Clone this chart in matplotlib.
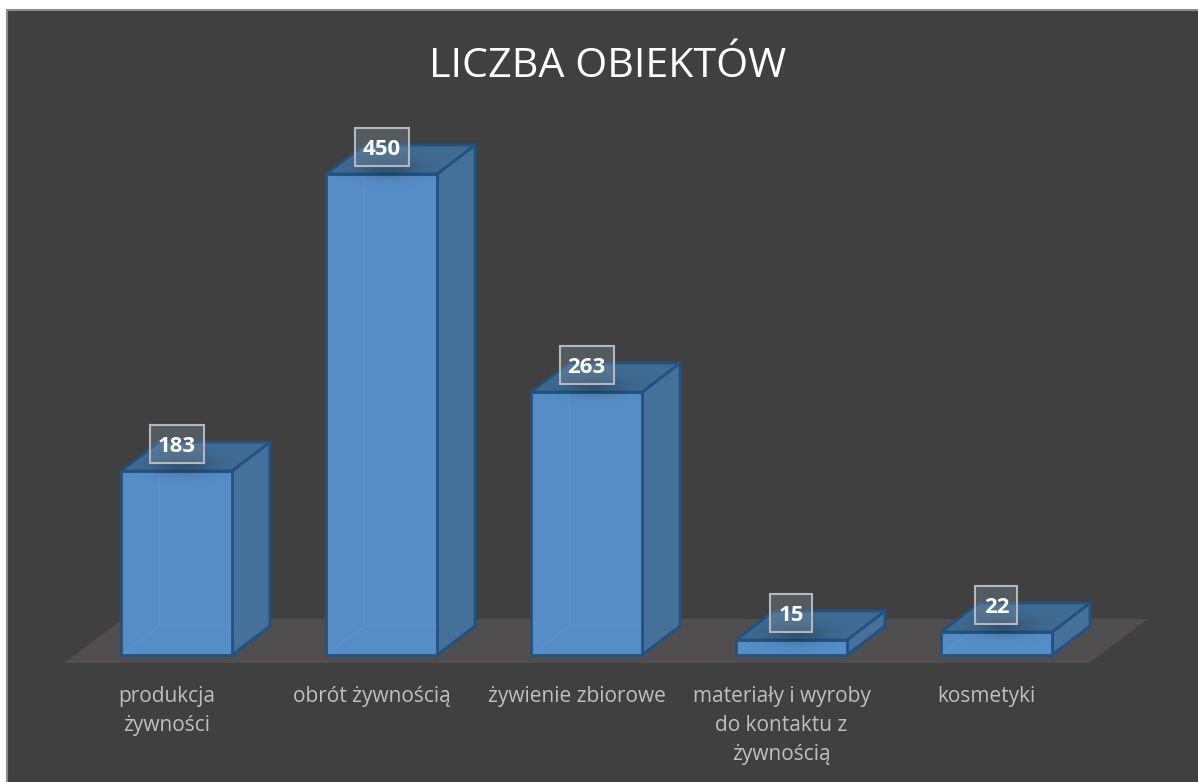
import numpy as np
import matplotlib
matplotlib.use("Agg")
import matplotlib.pyplot as plt
from matplotlib.patches import Polygon, Rectangle

# data
categories = ["produkcja\nżywności", "obrót żywnością", "żywienie zbiorowe",
              "materiały i wyroby\ndo kontaktu z\nżywnością", "kosmetyki"]
value_labels = ["183", "450", "263", "15", "22"]
# drawn heights differ from the printed 450 in the original chart
bar_heights = [184, 481, 263, 15, 23]
title = "LICZBA OBIEKTÓW"

plt.rcParams['font.family'] = ['Open Sans', 'DejaVu Sans']

W, H = 1198, 782
fig = plt.figure(figsize=(W / 100, H / 100), dpi=100, facecolor="white")
bg = Rectangle((7 / W, -0.01), 1.01, (H - 10) / H + 0.01, transform=fig.transFigure,
               facecolor="#404040", edgecolor="#8c8c8c", linewidth=1.5, zorder=-1)
fig.add_artist(bg)

# one category = 205 px, one height unit = 1 px, baseline at y px 655
ax = fig.add_axes([0, 0, 1, 1])
xlim = (-176.5 / 205, (W - 176.5) / 205)
ylim = (-(H - 655), 655)
ax.set_xlim(xlim)
ax.set_ylim(ylim)
ax.axis("off")

bar_w = 111 / 205
dx = 38 / 205
dy = 29
px = 1 / 205

# floor
fx0, fx1 = (65 - 177) * px, (1090 - 177) * px
ax.add_patch(Polygon([(fx0, -8), (fx1, -8), (fx1 + 58 * px, 36), (fx0 + 58 * px, 36)],
                     closed=True, facecolor="#504e4e", edgecolor="none", zorder=1))

# soft shadow profile under the label boxes
prof_x = np.exp(-np.linspace(-1.6, 1.6, 60) ** 2 * 1.5)
prof_y = np.exp(-np.linspace(-1.6, 1.6, 40) ** 2 * 1.5)
shadow = np.zeros((40, 60, 4))
shadow[..., 3] = 0.22 * np.outer(prof_y, prof_x)

edge = "#22527f"
for i, h in enumerate(bar_heights):
    l, r = i - bar_w / 2, i + bar_w / 2
    # side and top faces
    ax.add_patch(Polygon([(r, 0), (r + dx, dy), (r + dx, h + dy), (r, h)], closed=True,
                         facecolor="#44709a", edgecolor=edge, linewidth=2, zorder=2))
    ax.add_patch(Polygon([(l, h), (r, h), (r + dx, h + dy), (l + dx, h + dy)], closed=True,
                         facecolor="#3f6a92", edgecolor=edge, linewidth=2, zorder=2))
    # front face
    ax.bar(i, h, width=bar_w, color="#568dc5", edgecolor="none", zorder=3)
    # back edges seen through the front
    if h > 40:
        ax.plot([l + dx, l + dx], [dy, h], color="#5a93cc", linewidth=1, zorder=4)
        ax.plot([l + dx, r], [dy, dy], color="#5a93cc", linewidth=1, zorder=4)
    ax.plot([l, l + min(dx, h / dy * dx)], [0, min(dy, h)], color="#5a93cc", linewidth=1, zorder=4)
    ax.bar(i, h, width=bar_w, color="none", edgecolor=edge, linewidth=2, zorder=4.5)
    # shadow falls on the bar top, centred below the label
    ax.imshow(shadow, extent=(i - 50 * px, i + 62 * px, h - 14, h + 26), aspect="auto",
              zorder=5, interpolation="bilinear")
    # value label box
    bw = (54 if len(value_labels[i]) == 3 else 42) * px
    yc = h + 27
    ax.add_patch(Rectangle((i - bw / 2, yc - 19), bw, 38, facecolor="#7f8d99", alpha=0.35,
                           edgecolor="none", zorder=6))
    ax.add_patch(Rectangle((i - bw / 2, yc - 19), bw, 38, facecolor="none",
                           edgecolor="#b4b8bc", linewidth=1.5, zorder=6))
    ax.text(i, yc, value_labels[i], ha="center", va="center_baseline", color="white",
            fontsize=16, fontweight="bold", zorder=7)
    ax.text(i - 10 * px, -31, categories[i], ha="center", va="top", color="#bfbfbf", fontsize=15,
            linespacing=1.5, zorder=7)

ax.set_xlim(xlim)
ax.set_ylim(ylim)
ax.text((608 - 177) * px, 655 - 67, title, ha="center", va="center", color="white",
        fontsize=29.7, zorder=7)

fig.savefig("out.png", dpi=100, facecolor="white")
